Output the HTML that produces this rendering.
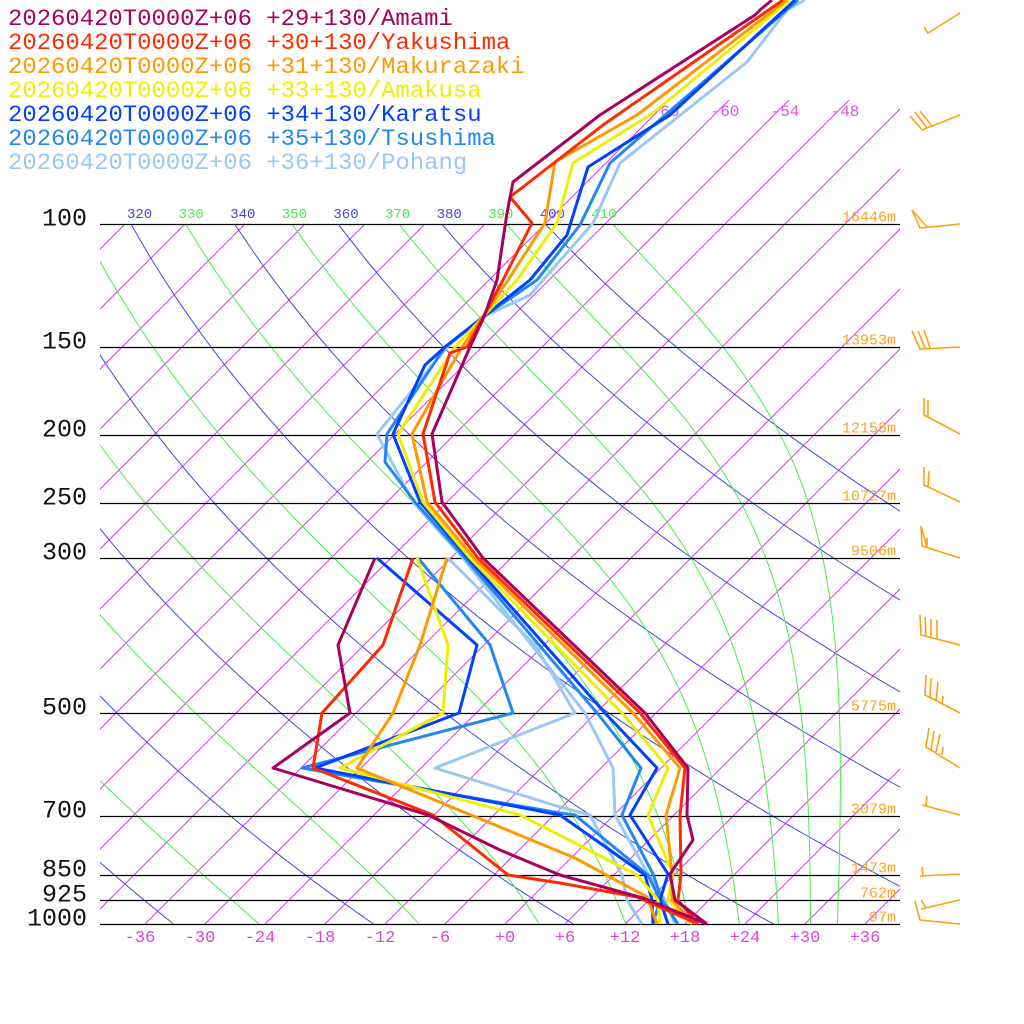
<!DOCTYPE html>
<html><head><meta charset="utf-8"><style>
html,body{margin:0;padding:0;background:#fff;}
svg{display:block;}
</style></head><body>
<svg id="s" width="1024" height="1024" viewBox="0 0 1024 1024" xmlns="http://www.w3.org/2000/svg" font-family="'Liberation Mono', 'DejaVu Sans Mono', monospace">
<defs>
<clipPath id="cA"><rect x="100" y="224" width="800" height="700"/></clipPath>
<clipPath id="cB"><rect x="100" y="100" width="800" height="824"/></clipPath>
</defs>
<g id="grid"></g>
<g id="levels" stroke="#000" stroke-width="1.2"></g>
<g id="lbl"></g>
<g id="prof" fill="none" stroke-width="3" stroke-linejoin="round"></g>
<g id="barbs" fill="none" stroke="#ffa010" stroke-width="1.6"></g>
</svg>
<script>
var NS="http://www.w3.org/2000/svg";
var MONO="'Liberation Mono', monospace";
function el(parent,tag,attrs,txt){var e=document.createElementNS(NS,tag);for(var k in attrs)e.setAttribute(k,attrs[k]);if(tag==='text')e.setAttribute('font-family',MONO);if(txt!==undefined)e.textContent=txt;parent.appendChild(e);return e;}
function Y(p){return 924-304*Math.log(1000/p);}
function X(T,y){return 505+10*T+(924-y);}
var grid=document.getElementById('grid');
var gi=el(grid,'g',{'clip-path':'url(#cB)',stroke:'#cc44dd','stroke-width':'1'});
for(var T=-120;T<=48;T+=6){
  var ytop=(T>=-66)?100:224;
  el(gi,'line',{x1:X(T,924),y1:924,x2:X(T,ytop),y2:ytop});
}
var ga=el(grid,'g',{'clip-path':'url(#cA)',fill:'none','stroke-width':'1'});
for(var th=180;th<=400;th+=20){
  var d='';
  for(var p=1000;p>=100;p-=5){var y=Y(p);var Tc=th*Math.pow(p/1000,0.2857)-273.15;d+=(d?'L':'M')+X(Tc,y).toFixed(1)+' '+y.toFixed(1);}
  el(ga,'path',{d:d,stroke:'#4444ee'});
}
function es(Tc){return 6.112*Math.exp(17.67*Tc/(Tc+243.5));}
function thetaE(Tc,p){var TK=Tc+273.15;var e=es(Tc);var r=0.622*e/(p-e);return TK*Math.pow(1000/p,0.2854*(1-0.28*r))*Math.exp((3376/TK-2.54)*r*(1+0.81*r));}
for(var te=190;te<=410;te+=20){
  var lo=-80,hi=45;
  for(var i=0;i<60;i++){var m=(lo+hi)/2;if(thetaE(m,1000)<te)lo=m;else hi=m;}
  var Tc=(lo+hi)/2,d='';
  for(var p=1000;p>=100;p-=2){
    var y=Y(p);d+=(d?'L':'M')+X(Tc,y).toFixed(1)+' '+y.toFixed(1);
    var TK=Tc+273.15,e=es(Tc),r=0.622*e/(p-e);
    var dTdp=(287*TK+2.5e6*r)/(p*(1004+2.5e6*2.5e6*r*0.622/(287*TK*TK)));
    Tc-=dTdp*2;
  }
  el(ga,'path',{d:d,stroke:'#44ee44'});
}
var gl=el(grid,'g',{'clip-path':'url(#cB)','font-size':'14','text-anchor':'middle'});
var thl=[310,320,330,340,350,360,370,380,390,400,410];
for(var i=0;i<thl.length;i++){el(gl,'text',{x:88+i*51.6,y:218,fill:(i%2==0)?'#44ee44':'#4444ee'},String(thl[i]));}
var lv=document.getElementById('levels');
var L=[[100,'16446m'],[150,'13953m'],[200,'12155m'],[250,'10727m'],[300,'9506m'],[500,'5775m'],[700,'3079m'],[850,'1473m'],[925,'762m'],[1000,'97m']];
var lb=document.getElementById('lbl');
for(var i=0;i<L.length;i++){
  var y=Math.round(Y(L[i][0]))+0.5;
  el(lv,'line',{x1:100,y1:y,x2:900,y2:y});
  el(lb,'text',{x:87,y:y+1,'text-anchor':'end','font-size':'25',fill:'#111'},String(L[i][0]));
  el(lb,'text',{x:896,y:y-3,'text-anchor':'end','font-size':'15',fill:'#ffa020'},L[i][1]);
}
var tl=[['-66',665],['-60',725],['-54',785],['-48',845]];
tl.forEach(function(a){el(lb,'text',{x:a[1],y:116,'text-anchor':'middle','font-size':'16',fill:'#dd55dd'},a[0]);});
for(var T=-36;T<=36;T+=6){el(lb,'text',{x:505+10*T+(T<0?-5:0),y:942,'text-anchor':'middle','font-size':'17',fill:'#dd44dd'},(T>=0?'+':'')+T);}
var leg=[['Amami','+29+130','#a8005e'],['Yakushima','+30+130','#ff2a00'],['Makurazaki','+31+130','#ff9900'],['Amakusa','+33+130','#eeee00'],['Karatsu','+34+130','#0040ff'],['Tsushima','+35+130','#2288ee'],['Pohang','+36+130','#99c8f6']];
leg.forEach(function(a,i){var s='20260420T0000Z+06 '+a[1]+'/'+a[0];el(lb,'text',{x:8,y:25+24*i,'font-size':'23',fill:a[2],textLength:(s.length*14.35).toFixed(1),lengthAdjust:'spacingAndGlyphs'},s);});
var P={
'#a8005e':[[[707,924],[675,900],[670,874],[693,840],[687,815],[688,768],[645,713],[483,558],[442,502],[432,434],[470,347],[484,317],[497,280],[507,213],[513,182],[600,115],[755,15],[760,10],[772,0]],
 [[707,924],[643,898],[560,875],[500,850],[428,815],[273,768],[350,713],[338,645],[375,558]]],
'#ff2a00':[[[698,924],[678,900],[681,874],[680,815],[685,768],[640,713],[478,558],[435,502],[423,434],[450,353],[467,347],[483,317],[503,280],[532,223],[510,197],[603,125],[783,0]],
 [[698,924],[637,897],[560,883],[508,875],[433,815],[313,768],[322,713],[383,645],[413,558]]],
'#ff9900':[[[695,924],[672,900],[672,874],[666,815],[680,768],[633,713],[474,558],[427,502],[412,434],[462,347],[483,317],[508,280],[545,223],[555,162],[637,115],[787,0]],
 [[657,924],[647,897],[575,858],[357,768],[393,713],[420,645],[447,558]]],
'#eeee00':[[[692,924],[668,900],[673,874],[648,815],[668,768],[622,713],[470,558],[423,502],[398,434],[455,347],[483,317],[517,280],[557,223],[573,163],[653,113],[790,0]],
 [[660,924],[658,900],[637,875],[575,843],[520,815],[340,768],[443,713],[448,645],[417,558]]],
'#0040ff':[[[668,924],[660,900],[668,874],[630,815],[657,768],[605,713],[468,558],[420,502],[393,434],[425,365],[445,347],[483,317],[530,280],[567,235],[588,167],[670,115],[795,0]],
 [[653,924],[652,900],[645,875],[607,848],[560,815],[315,768],[459,713],[477,645],[377,558]]],
'#2288ee':[[[678,924],[662,900],[653,874],[622,815],[641,768],[597,713],[465,558],[415,502],[385,462],[387,434],[445,347],[483,317],[537,280],[580,225],[610,163],[783,13],[798,0]],
 [[653,924],[660,900],[648,875],[575,815],[560,813],[302,768],[513,713],[490,645],[418,558]]],
'#99c8f6':[[[675,924],[665,900],[648,874],[615,815],[613,768],[585,713],[463,558],[413,502],[377,434],[447,347],[483,317],[530,295],[543,280],[593,223],[620,163],[747,62],[787,10],[805,0]],
 [[642,924],[627,900],[622,875],[590,815],[560,807],[435,768],[575,713],[535,645],[448,558]]]
};
var pr=document.getElementById('prof');
['#99c8f6','#2288ee','#0040ff','#eeee00','#ff9900','#ff2a00','#a8005e'].forEach(function(c){
  P[c].forEach(function(pts){el(pr,'polyline',{points:pts.map(function(q){return q.join(',');}).join(' '),stroke:c});});
});
var B=[
'M960 13L928 33L924 27',
'M960 115L922 130M922 130L910 116M927 128L915 112M932 126L920 111',
'M960 224L920 228L912 210L927 227',
'M960 347L920 349L912 331M925 348L918 331M930 348L924 330',
'M960 434L924 415L924 398M924 415L928 417L928 400',
'M960 502L924 485L924 467M924 485L928 487L929 471',
'M960 558L922 546L921 526L927 547L927 538',
'M960 645L921 635L920 615M926 636L925 617M931 637L931 619M937 639L937 620',
'M960 713L925 695L926 675M930 698L931 678M936 701L938 682M942 704L943 696',
'M960 768L926 747L929 728M931 750L934 731M936 752L940 734M942 755L943 747',
'M960 815L922 805M926 806L927 796',
'M960 874L920 876M923 876L922 867',
'M960 900L921 909M926 908L921 900',
'M960 924L920 920L915 901'
];
var gb=document.getElementById('barbs');
B.forEach(function(d){el(gb,'path',{d:d});});
</script>
</body></html>
